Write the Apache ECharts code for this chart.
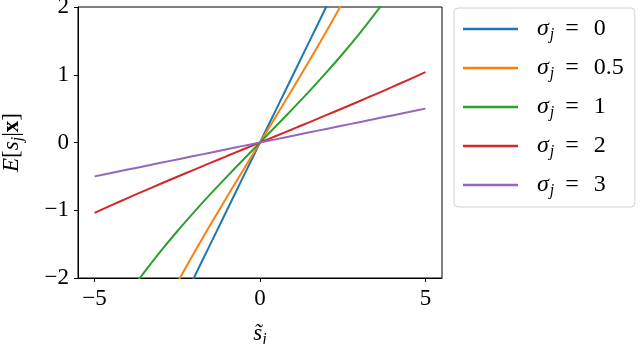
<!DOCTYPE html>
<html><head><meta charset="utf-8">
<script src="https://cdn.jsdelivr.net/npm/echarts@6/dist/echarts.min.js"></script>
<style>html,body{margin:0;padding:0;background:#fff}#c{width:640px;height:344px}</style>
</head><body><div id="c"></div>
<script>
// x values (tilde s_j)
const xs = [-5,-4.5,-4,-3.5,-3,-2.5,-2,-1.5,-1,-0.5,0,0.5,1,1.5,2,2.5,3,3.5,4,4.5,5];
// E[s_j|x] for each sigma_j (curves beyond ±2 are clipped)
const sigma0   = [-5,-4.5,-4,-3.5,-3,-2.5,-2,-1.5,-1,-0.5,0,0.5,1,1.5,2,2.5,3,3.5,4,4.5,5];
const sigma05  = [-4.563,-4.010,-3.488,-2.993,-2.522,-2.070,-1.636,-1.215,-0.805,-0.401,0,0.401,0.805,1.215,1.636,2.070,2.522,2.993,3.488,4.010,4.563];
const sigma1   = [-2.984,-2.603,-2.248,-1.916,-1.604,-1.310,-1.031,-0.763,-0.504,-0.250,0,0.250,0.504,0.763,1.031,1.310,1.604,1.916,2.248,2.603,2.984];
const sigma2   = [-1.040,-0.929,-0.820,-0.714,-0.609,-0.505,-0.403,-0.301,-0.200,-0.100,0,0.100,0.200,0.301,0.403,0.505,0.609,0.714,0.820,0.929,1.040];
const sigma3   = [-0.500,-0.450,-0.400,-0.350,-0.300,-0.250,-0.200,-0.150,-0.100,-0.050,0,0.050,0.100,0.150,0.200,0.250,0.300,0.350,0.400,0.450,0.500];
const sigmaNames = ['0','0.5','1','2','3'];
const xTicks = [-5,0,5];
const yTicks = [-2,-1,0,1,2];
const colors = ['#1f77b4','#ff7f0e','#2ca02c','#d62728','#9467bd'];

const FONT = 'Liberation Serif';
const allY = [sigma0, sigma05, sigma1, sigma2, sigma3];
const minus = v => String(v).replace('-', '\u2212');

const chart = echarts.init(document.getElementById('c'), null, {renderer:'canvas'});
chart.setOption({
  animation: false,
  backgroundColor: '#fff',
  grid: {left: 78, right: 198, top: 7, bottom: 66, show: true, borderColor: '#000', borderWidth: 1,
         containLabel: false, outerBoundsMode: 'none'},
  xAxis: {
    type: 'value', min: -5.5, max: 5.5,
    splitLine: {show: false},
    axisLine: {show: true, onZero: false, lineStyle: {color: '#000', width: 1}},
    axisTick: {show: true, inside: false, length: 4, lineStyle: {color: '#000'}, customValues: xTicks},
    axisLabel: {customValues: xTicks, formatter: minus, color: '#000', fontFamily: FONT, fontSize: 23, margin: 9},
    name: '{s|s̃}{j|j}', nameLocation: 'middle', nameGap: 42,
    nameTextStyle: {rich: {
      s: {fontFamily: FONT, fontStyle: 'italic', fontSize: 23, color: '#000'},
      j: {fontFamily: FONT, fontStyle: 'italic', fontSize: 16, color: '#000', padding: [12,0,0,0]}
    }}
  },
  yAxis: {
    type: 'value', min: -2, max: 2, interval: 1,
    splitLine: {show: false},
    axisLine: {show: true, onZero: false, lineStyle: {color: '#000', width: 1}},
    axisTick: {show: true, inside: false, length: 4, lineStyle: {color: '#000'}},
    axisLabel: {formatter: minus, color: '#000', fontFamily: FONT, fontSize: 23, margin: 9},
    name: '{e|E}{t|[}{s|s}{j|j}{t||}{b|x}{t|]}', nameLocation: 'middle', nameRotate: 90, nameGap: 52,
    nameTextStyle: {rich: {
      e: {fontFamily: FONT, fontStyle: 'italic', fontSize: 23, color: '#000'},
      t: {fontFamily: FONT, fontSize: 23, color: '#000'},
      s: {fontFamily: FONT, fontStyle: 'italic', fontSize: 23, color: '#000'},
      b: {fontFamily: FONT, fontWeight: 'bold', fontSize: 23, color: '#000'},
      j: {fontFamily: FONT, fontStyle: 'italic', fontSize: 16, color: '#000', padding: [12,0,0,0]}
    }}
  },
  legend: {
    orient: 'vertical', left: 454, top: 8,
    padding: [7, 11, 8, 9], itemGap: 11, itemWidth: 55, itemHeight: 2.5, icon: 'rect',
    backgroundColor: '#fff', borderColor: '#d0d0d0', borderWidth: 1, borderRadius: 4,
    data: sigmaNames.map(n => 'σj = ' + n),
    formatter: name => '{s|σ}{j|j}{e|=}{t|' + name.split('= ')[1] + '}',
    textStyle: {padding: [0,0,0,14], rich: {
      s: {fontFamily: FONT, fontStyle: 'italic', fontSize: 24, color: '#000', lineHeight: 26},
      j: {fontFamily: FONT, fontStyle: 'italic', fontSize: 16, color: '#000', padding: [12,0,0,1], lineHeight: 26},
      e: {fontFamily: FONT, fontSize: 24, color: '#000', lineHeight: 26, padding: [0,15,0,11]},
      t: {fontFamily: FONT, fontSize: 24, color: '#000', lineHeight: 26}
    }}
  },
  series: allY.map((ys, i) => ({
    type: 'line', name: 'σj = ' + sigmaNames[i],
    data: xs.map((x, k) => [x, ys[k]]),
    symbol: 'none', smooth: 0.3, clip: true,
    lineStyle: {color: colors[i], width: 2}, itemStyle: {color: colors[i]}
  }))
});
</script></body></html>
